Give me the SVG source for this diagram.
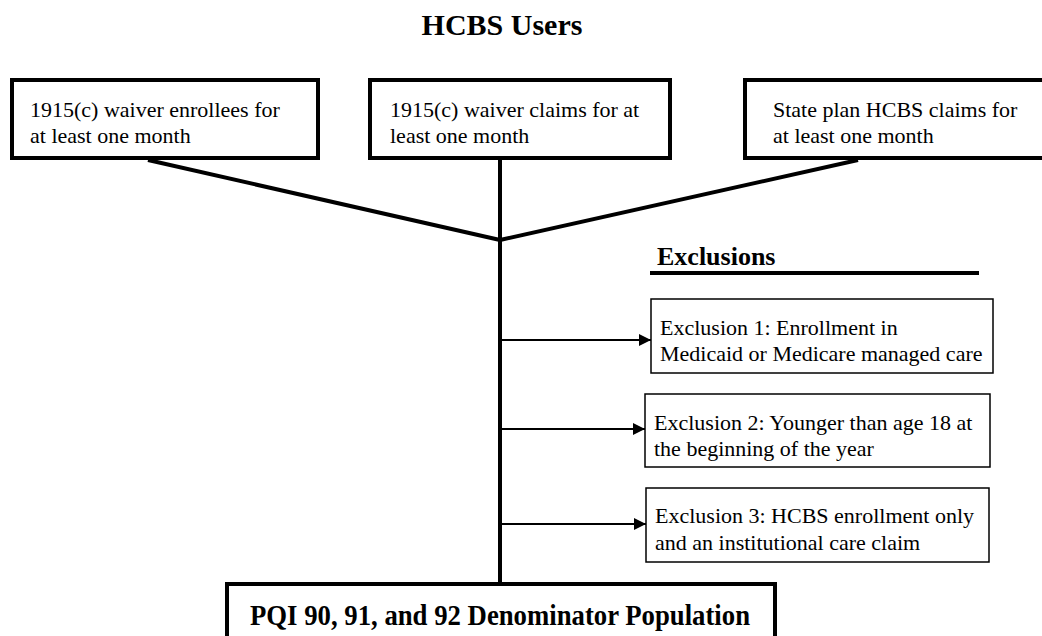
<svg xmlns="http://www.w3.org/2000/svg" width="1042" height="636" viewBox="0 0 1042 636">
<defs>
<style>
text{font-family:'Liberation Serif','DejaVu Serif','Times New Roman',Times,serif;fill:#000}
.t{font-size:22px}
.b{font-weight:bold}
.thick{fill:#fff;stroke:#000;stroke-width:4}
.thin{fill:#fff;stroke:#000;stroke-width:1.5}
.conn{stroke:#000;stroke-width:4;fill:none}
.arr{stroke:#000;stroke-width:2;fill:none;marker-end:url(#ah)}
</style>
<marker id="ah" markerWidth="12" markerHeight="12" refX="12" refY="6" orient="auto" markerUnits="userSpaceOnUse">
<path d="M0,0 L12,6 L0,12 Z" fill="#000"/>
</marker>
</defs>
<rect width="1042" height="636" fill="#fff"/>
<text id="title" class="b" x="502" y="35" font-size="30" text-anchor="middle" font-family="Liberation Serif, DejaVu Serif, serif">HCBS Users</text>
<g id="connectors">
<line class="conn" x1="148" y1="160" x2="500" y2="240"/>
<line class="conn" x1="858" y1="160" x2="500" y2="240"/>
<line class="conn" x1="500" y1="160" x2="500" y2="582"/>
<line class="arr" x1="500" y1="340" x2="651" y2="340"/>
<line class="arr" x1="500" y1="429" x2="645" y2="429"/>
<line class="arr" x1="500" y1="524" x2="646" y2="524"/>
</g>
<g id="box1" font-family="Liberation Serif, DejaVu Serif, serif">
<rect class="thick" x="12" y="80" width="306" height="78"/>
<text class="t" x="30" y="117">1915(c) waiver enrollees for</text>
<text class="t" x="30" y="143">at least one month</text>
</g>
<g id="box2">
<rect class="thick" x="370" y="80" width="300" height="78"/>
<text class="t" x="390" y="117">1915(c) waiver claims for at</text>
<text class="t" x="390" y="143">least one month</text>
</g>
<g id="box3">
<rect class="thick" x="745" y="80" width="300" height="78"/>
<text class="t" x="773" y="117">State plan HCBS claims for</text>
<text class="t" x="773" y="143">at least one month</text>
</g>
<g id="exclusions-header">
<text class="b" x="657" y="265" font-size="26">Exclusions</text>
<line x1="650" y1="273" x2="979" y2="273" stroke="#000" stroke-width="4"/>
</g>
<g id="exclusion1">
<rect class="thin" x="651" y="299" width="342" height="74"/>
<text class="t" x="660" y="335">Exclusion 1: Enrollment in</text>
<text class="t" x="660" y="361">Medicaid or Medicare managed care</text>
</g>
<g id="exclusion2">
<rect class="thin" x="645" y="394" width="345" height="73"/>
<text class="t" x="654" y="430">Exclusion 2: Younger than age 18 at</text>
<text class="t" x="654" y="456">the beginning of the year</text>
</g>
<g id="exclusion3">
<rect class="thin" x="646" y="488" width="343" height="74"/>
<text class="t" x="655" y="523">Exclusion 3: HCBS enrollment only</text>
<text class="t" x="655" y="550">and an institutional care claim</text>
</g>
<g id="result">
<rect class="thick" x="227" y="584" width="548" height="70"/>
<text class="b" x="500" y="625" font-size="30" text-anchor="middle" textLength="500" lengthAdjust="spacingAndGlyphs">PQI 90, 91, and 92 Denominator Population</text>
</g>
</svg>
